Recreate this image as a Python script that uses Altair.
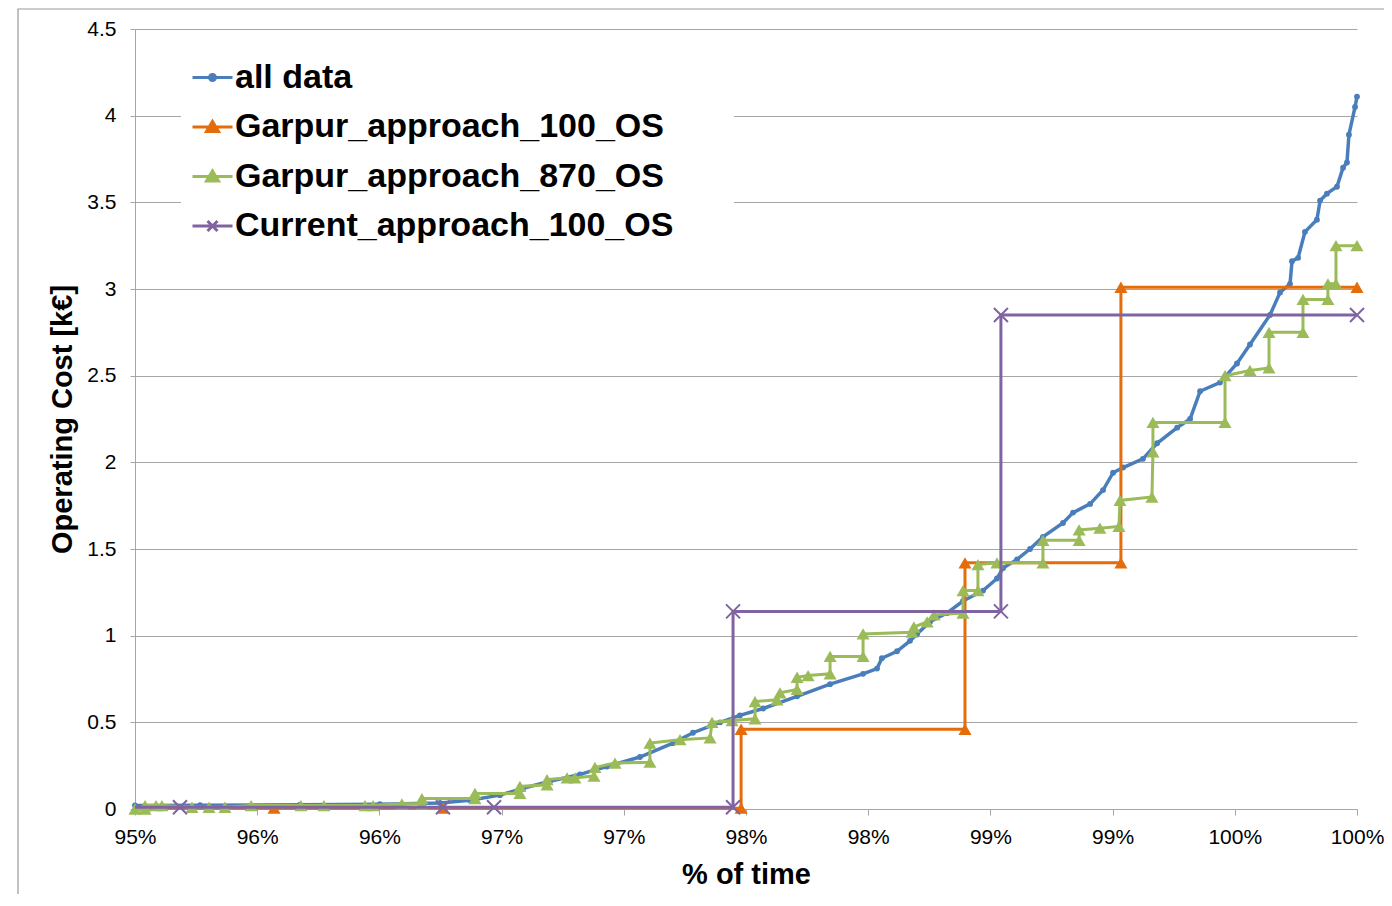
import altair as alt
import pandas as pd

series_names = ["all data", "Garpur_approach_100_OS", "Garpur_approach_870_OS", "Current_approach_100_OS"]
series_colors = ["#4A7EBB", "#E46C0A", "#9BBB59", "#8064A2"]

x_ticks = [95.0, 95.5, 96.0, 96.5, 97.0, 97.5, 98.0, 98.5, 99.0, 99.5, 100.0]
x_tick_labels = ["95%", "96%", "96%", "97%", "97%", "98%", "98%", "99%", "99%", "100%", "100%"]
y_ticks = [0, 0.5, 1, 1.5, 2, 2.5, 3, 3.5, 4, 4.5]

all_data = [(95.000, 0.020), (95.266, 0.022), (95.675, 0.025), (96.002, 0.028), (96.248, 0.035),
            (96.371, 0.05), (96.493, 0.08), (96.588, 0.12), (96.698, 0.16), (96.821, 0.20),
            (96.931, 0.245), (97.066, 0.30), (97.201, 0.38), (97.283, 0.44), (97.394, 0.50),
            (97.475, 0.54), (97.570, 0.58), (97.709, 0.65), (97.844, 0.72), (97.979, 0.78),
            (98.036, 0.81), (98.056, 0.87), (98.118, 0.91), (98.171, 0.97), (98.200, 1.01),
            (98.253, 1.08), (98.322, 1.13), (98.388, 1.20), (98.470, 1.26), (98.527, 1.33),
            (98.552, 1.39), (98.609, 1.44), (98.662, 1.50), (98.715, 1.57), (98.797, 1.65),
            (98.838, 1.71), (98.908, 1.76), (98.961, 1.84), (99.002, 1.94), (99.043, 1.97),
            (99.124, 2.02), (99.182, 2.11), (99.264, 2.20), (99.317, 2.25), (99.358, 2.41),
            (99.439, 2.46), (99.509, 2.57), (99.562, 2.68), (99.644, 2.85), (99.685, 2.98),
            (99.726, 3.03), (99.734, 3.16), (99.759, 3.18), (99.787, 3.33), (99.836, 3.40),
            (99.849, 3.51), (99.877, 3.55), (99.918, 3.59), (99.943, 3.70), (99.959, 3.73),
            (99.967, 3.89), (99.992, 4.05), (100.0, 4.11)]

garpur_100 = [(95.0, 0.005), (95.569, 0.005), (96.26, 0.005), (97.48, 0.005), (97.48, 0.46),
              (98.396, 0.46), (98.396, 1.42), (99.034, 1.42), (99.034, 3.01), (100.0, 3.01)]

garpur_870 = [(95.000, 0.00), (95.041, 0.00), (95.041, 0.02), (95.086, 0.02), (95.110, 0.02),
              (95.233, 0.01), (95.303, 0.01), (95.368, 0.01), (95.475, 0.02), (95.679, 0.02),
              (95.773, 0.02), (95.941, 0.02), (95.974, 0.02), (96.092, 0.03), (96.174, 0.03),
              (96.174, 0.06), (96.391, 0.06), (96.391, 0.09), (96.575, 0.09), (96.575, 0.13),
              (96.686, 0.14), (96.686, 0.17), (96.768, 0.18), (96.800, 0.18), (96.878, 0.19),
              (96.882, 0.24), (96.964, 0.265), (97.107, 0.27), (97.107, 0.38), (97.230, 0.40),
              (97.353, 0.41), (97.361, 0.50), (97.443, 0.51), (97.537, 0.52), (97.537, 0.62),
              (97.627, 0.63), (97.639, 0.67), (97.709, 0.69), (97.709, 0.76), (97.754, 0.77),
              (97.844, 0.78), (97.844, 0.88), (97.979, 0.88), (97.979, 1.01), (98.179, 1.02),
              (98.187, 1.05), (98.241, 1.08), (98.269, 1.12), (98.388, 1.13), (98.388, 1.26),
              (98.449, 1.26), (98.449, 1.41), (98.527, 1.42), (98.715, 1.42), (98.715, 1.55),
              (98.863, 1.55), (98.863, 1.61), (98.948, 1.62), (99.026, 1.63), (99.030, 1.78),
              (99.161, 1.80), (99.165, 2.06), (99.165, 2.23), (99.460, 2.23), (99.460, 2.50),
              (99.562, 2.53), (99.640, 2.545), (99.640, 2.75), (99.779, 2.75), (99.779, 2.94),
              (99.881, 2.94), (99.881, 3.03), (99.914, 3.03), (99.914, 3.25), (100.0, 3.25)]

current_100 = [(95.0, 0.01), (95.184, 0.01), (96.26, 0.01), (96.469, 0.01), (97.447, 0.01),
               (97.447, 1.14), (98.543, 1.14), (98.543, 2.85), (100.0, 2.85)]

legend_shapes = [
    "M-1,0H1M0.15,0A0.15,0.15 0 1,1 -0.15,0A0.15,0.15 0 1,1 0.15,0",
    "M-1,0H1M0,-0.28L0.3,0.22L-0.3,0.22Z",
    "M-1,0H1M0,-0.28L0.3,0.22L-0.3,0.22Z",
    "M-1,0H1M-0.25,-0.25L0.25,0.25M-0.25,0.25L0.25,-0.25",
]


def make_df(pts, name):
    return pd.DataFrame({
        "x": [p[0] for p in pts],
        "y": [p[1] for p in pts],
        "series": name,
        "i": list(range(len(pts))),
    })


label_expr = "[" + ",".join("'%s'" % s for s in x_tick_labels) + "][round((datum.value-95)*2)]"

x_enc = alt.X("x:Q", scale=alt.Scale(domain=[95, 100], nice=False, zero=False),
              axis=alt.Axis(values=x_ticks, labelExpr=label_expr, title="% of time",
                            grid=False, tickSize=6, labelPadding=11, titlePadding=13,
                            labelFlush=False, labelOverlap=False))
y_enc = alt.Y("y:Q", scale=alt.Scale(domain=[0, 4.5], nice=False),
              axis=alt.Axis(values=y_ticks, format=".1~f", title="Operating Cost [k€]",
                            grid=True, tickSize=5, labelPadding=14, titlePadding=9,
                            labelFlush=False, labelOverlap=False))

dfs = [make_df(all_data, series_names[0]), make_df(garpur_100, series_names[1]),
       make_df(garpur_870, series_names[2]), make_df(current_100, series_names[3])]

layers = []
# frame around the whole figure (decoration)
frame = alt.Chart(pd.DataFrame({"f": [0]})).mark_rect(filled=False, color="#9a9a9a", strokeWidth=1.2).encode(
    x=alt.value(-117), x2=alt.value(1400), y=alt.value(-20), y2=alt.value(1000))
layers.append(frame)

point_marks = [
    dict(filled=True, shape="circle", size=34, opacity=1),
    dict(filled=True, shape="triangle-up", size=170, opacity=1),
    dict(filled=True, shape="triangle-up", size=170, opacity=1),
    dict(filled=False, shape="M-1,-1L1,1M-1,1L1,-1", size=196, strokeWidth=2, opacity=1),
]
line_widths = [3.5, 3, 3, 3]

for k, df in enumerate(dfs):
    col = series_colors[k]
    line = alt.Chart(df).mark_line(strokeWidth=line_widths[k], color=col).encode(
        x=x_enc, y=y_enc, order=alt.Order("i:Q"))
    pts = alt.Chart(df).mark_point(color=col, **point_marks[k]).encode(x=x_enc, y=y_enc)
    if k in (1, 3):
        pts = pts.transform_filter("datum.x > 95")
    layers += [line, pts]

blank_pad = "\u2800\u2800"
leg = alt.Legend(title=None, orient="none", legendX=46, legendY=17, symbolSize=1600,
                 symbolStrokeWidth=3, symbolOpacity=1, labelFont="Liberation Sans", labelFontSize=34,
                 labelFontWeight="bold", labelColor="black", labelOffset=1, rowPadding=10.5,
                 padding=10, fillColor="white", labelLimit=1000,
                 labelExpr="datum.label + '" + blank_pad + "'")

legend_df = pd.DataFrame({"series": series_names, "x": [95.0] * 4, "y": [0.0] * 4})
legend_layer = alt.Chart(legend_df).mark_point(filled=True, opacity=0, strokeWidth=3).encode(
    x=x_enc, y=y_enc,
    fill=alt.Fill("series:N", scale=alt.Scale(domain=series_names, range=series_colors), legend=leg),
    stroke=alt.Stroke("series:N", scale=alt.Scale(domain=series_names, range=series_colors), legend=leg),
    shape=alt.Shape("series:N", scale=alt.Scale(domain=series_names, range=legend_shapes), legend=leg),
)
layers.append(legend_layer)

chart = alt.layer(*layers).properties(
    width=1222, height=780,
    autosize=alt.AutoSizeParams(type="none"),
    padding={"left": 127, "top": 21, "right": 27, "bottom": 85},
    background="white",
).configure_view(strokeWidth=0).configure_axis(
    gridColor="#a6a6a6", gridWidth=1, domainColor="#a6a6a6", tickColor="#a6a6a6",
    labelFont="Liberation Sans", labelFontSize=21, labelColor="black",
    titleFont="Liberation Sans", titleFontSize=29, titleFontWeight="bold", titleColor="black",
)

chart.save("out.html", embed_options={"renderer": "svg", "actions": False})
